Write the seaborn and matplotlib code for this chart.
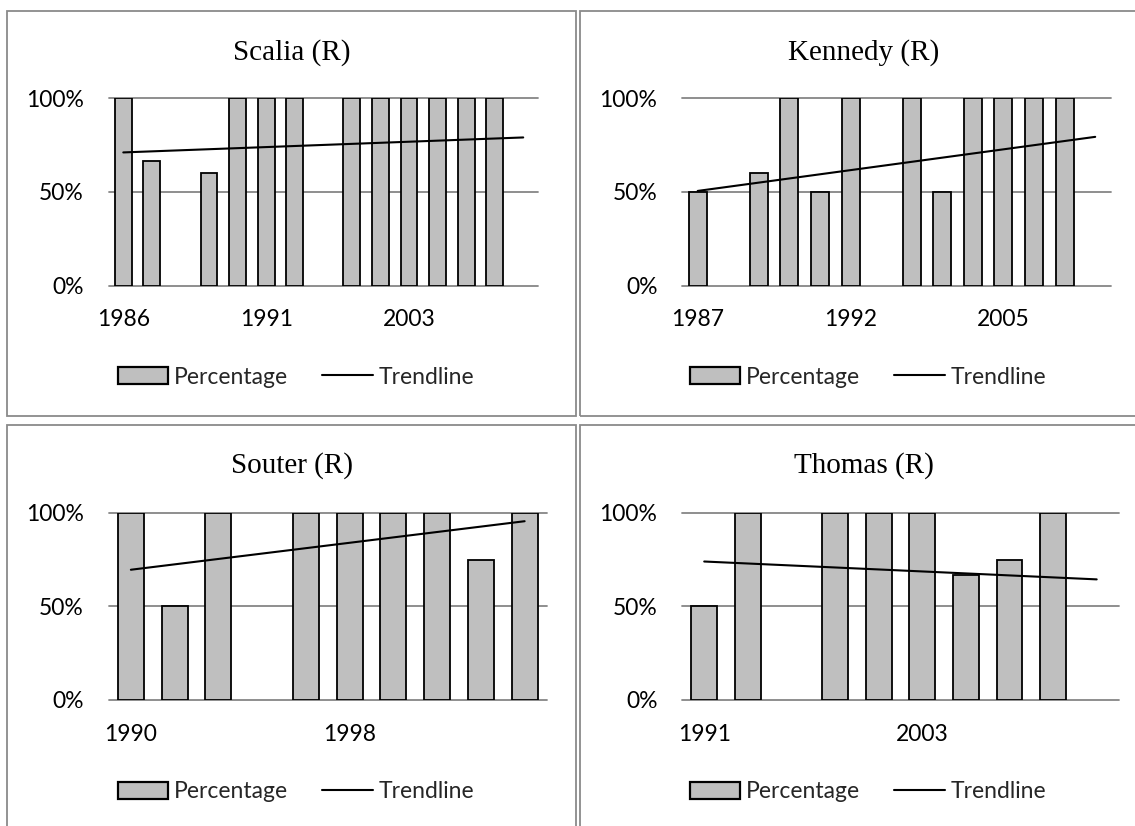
import matplotlib
matplotlib.use("Agg")
import matplotlib.pyplot as plt
from matplotlib.patches import Rectangle, Patch
from matplotlib.lines import Line2D
import numpy as np
import seaborn as sns

# Share of votes per term year, one panel per justice
scalia_years = ["1986", "1987", "1988", "1989", "1990", "1991", "1992", "1993",
                "1995", "1999", "2003", "2004", "2005", "2006", "2007"]
scalia_pct = [100, 66.7, 0, 60, 100, 100, 100, 0, 100, 100, 100, 100, 100, 100, 0]

kennedy_years = ["1987", "1988", "1989", "1990", "1991", "1992", "1993", "1995",
                 "1999", "2002", "2005", "2006", "2007", "2008"]
kennedy_pct = [50, 0, 60, 100, 50, 100, 0, 100, 50, 100, 100, 100, 100, 0]

souter_years = ["1990", "1991", "1992", "1993", "1995", "1998", "1999", "2000",
                "2003", "2006"]
souter_pct = [100, 50, 100, 0, 100, 100, 100, 100, 75, 100]

thomas_years = ["1991", "1992", "1993", "1995", "1999", "2003", "2005", "2006",
                "2007", "2008"]
thomas_pct = [50, 100, 0, 100, 100, 100, 66.7, 75, 100, 0]

titles = ["Scalia (R)", "Kennedy (R)", "Souter (R)", "Thomas (R)"]
y_ticks = [0, 50, 100]
y_tick_labels = ["0%", "50%", "100%"]

W, H = 1135, 826
sns.set_theme(style="white")
plt.rcParams["font.family"] = ["Lato", "DejaVu Sans"]

BAR_FILL = "#BFBFBF"
GRID = "#868686"
FRAME = "#8A8A8A"
LABEL_SIZE = 16.5

fig = plt.figure(figsize=(W / 100, H / 100), dpi=100)
fig.patch.set_facecolor("white")


def px_rect(x0, y0, x1, y1):
    """Axes rectangle from pixel corners measured from the top-left."""
    return [x0 / W, 1 - y1 / H, (x1 - x0) / W, (y1 - y0) / H]


# plot areas and chart frames (pixels, from top-left)
panels = [
    dict(years=scalia_years, pct=scalia_pct, title=titles[0],
         plot=(109, 98.3, 537.5, 285.7), frame=(7, 11, 576, 416),
         title_xy=(292, 60), legend_xy=(296, 377)),
    dict(years=kennedy_years, pct=kennedy_pct, title=titles[1],
         plot=(682.4, 98.3, 1110.5, 285.7), frame=(579.5, 11, 1160, 416),
         title_xy=(864, 60), legend_xy=(868, 377)),
    dict(years=souter_years, pct=souter_pct, title=titles[2],
         plot=(109, 512.7, 546.5, 700), frame=(7, 425, 576, 860),
         title_xy=(292, 473), legend_xy=(296, 792)),
    dict(years=thomas_years, pct=thomas_pct, title=titles[3],
         plot=(682.4, 512.7, 1118.5, 700), frame=(579.5, 425, 1160, 860),
         title_xy=(864, 473), legend_xy=(868, 792)),
]

for p in panels:
    fx0, fy0, fx1, fy1 = p["frame"]
    fig.add_artist(Rectangle((fx0 / W, 1 - fy1 / H), (fx1 - fx0) / W, (fy1 - fy0) / H,
                             transform=fig.transFigure, fill=False,
                             edgecolor=FRAME, linewidth=1.3, clip_on=False))

    ax = fig.add_axes(px_rect(*p["plot"]))
    n = len(p["years"])
    pos = np.arange(n)
    sns.barplot(x=p["years"], y=p["pct"], order=p["years"], color=BAR_FILL,
                saturation=1, width=0.59, edgecolor="black", linewidth=1.3,
                ax=ax, zorder=2)
    # empty years leave only the baseline visible
    for bar in ax.patches:
        if bar.get_height() == 0:
            bar.set_visible(False)
    sns.regplot(x=pos, y=np.asarray(p["pct"], dtype=float), scatter=False, ci=None,
                truncate=True, ax=ax,
                line_kws=dict(color="black", linewidth=1.5, zorder=3))

    ax.set_xlim(-0.5, n - 0.5)
    ax.set_ylim(0, 100)
    ax.set_xlabel("")
    ax.set_ylabel("")
    ax.set_xticks(pos[::5])
    ax.set_xticklabels(p["years"][::5])
    ax.set_yticks(y_ticks)
    ax.set_yticklabels(y_tick_labels)
    ax.tick_params(axis="both", length=0, labelsize=LABEL_SIZE, colors="black")
    ax.tick_params(axis="y", pad=18)
    ax.tick_params(axis="x", pad=17)
    for s in ax.spines.values():
        s.set_visible(False)
    ax.set_axisbelow(True)
    ax.yaxis.grid(True, color=GRID, linewidth=1.3)
    for gl in ax.get_ygridlines():
        gl.set_clip_on(False)
    ax.patch.set_alpha(0)

    tx, ty = p["title_xy"]
    fig.text(tx / W, 1 - ty / H, p["title"], ha="center", va="baseline",
             fontsize=21, family=["Liberation Serif", "DejaVu Serif"], color="black")

    lx, ly = p["legend_xy"]
    handles = [Patch(facecolor=BAR_FILL, edgecolor="black", linewidth=1.6),
               Line2D([0], [0], color="black", linewidth=1.5)]
    fig.legend(handles, ["Percentage", "Trendline"], loc="center",
               bbox_to_anchor=(lx / W, 1 - ly / H), ncol=2, frameon=False,
               fontsize=LABEL_SIZE, handlelength=2.2, handleheight=0.7,
               handletextpad=0.25, columnspacing=1.5, borderpad=0,
               borderaxespad=0)

fig.savefig("out.png", dpi=100, facecolor="white")
